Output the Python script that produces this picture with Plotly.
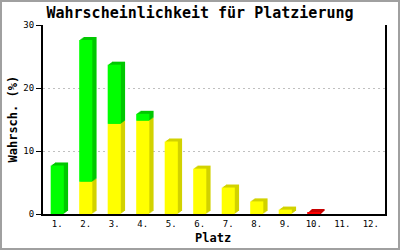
import plotly.graph_objects as go

categories = ["1.", "2.", "3.", "4.", "5.", "6.", "7.", "8.", "9.", "10.", "11.", "12."]
yellow_vals = [0, 5.1, 14.3, 14.8, 11.5, 7.2, 4.2, 2.0, 0.7, 0, 0, 0]
green_vals = [7.7, 22.5, 9.4, 1.1, 0, 0, 0, 0, 0, 0, 0, 0]
red_vals = [0, 0, 0, 0, 0, 0, 0, 0, 0, 0.2, 0, 0]

series = [
    ("gelb", yellow_vals, "#ffff00", "#d2d200"),
    ("grün", green_vals, "#00ff00", "#00c800"),
    ("rot", red_vals, "#ff0000", "#c80000"),
]

W, H = 400, 250
ML, MR, MT, MB = 43, 15, 25, 36
PW, PH = W - ML - MR, H - MT - MB

BAR_W = 0.46
DX = 0.15      # depth in category units
DY = 0.48      # depth in value units
STEPS = 4

# stacked bases
bases = []
run = [0.0] * len(categories)
for _, vals, _, _ in series:
    bases.append(list(run))
    run = [r + v for r, v in zip(run, vals)]

fig = go.Figure()
xi = list(range(len(categories)))

# shadows (side + top faces)
for (name, vals, front, dark), base in zip(series, bases):
    for k in range(STEPS, 0, -1):
        fig.add_trace(go.Bar(
            x=xi, y=vals, base=[b + DY * k / STEPS for b in base],
            width=BAR_W, offset=-BAR_W / 2 + DX * k / STEPS,
            marker=dict(color=dark, line=dict(width=0)),
            showlegend=False, hoverinfo="skip",
        ))
# front faces
for (name, vals, front, dark), base in zip(series, bases):
    fig.add_trace(go.Bar(
        x=xi, y=vals, base=base, width=BAR_W, offset=-BAR_W / 2,
        marker=dict(color=front, line=dict(width=0)),
        name=name, showlegend=False,
    ))

mono = "DejaVu Sans Mono"
fig.update_layout(
    width=W, height=H, barmode="overlay",
    margin=dict(l=ML, r=MR, t=MT, b=MB, pad=0),
    paper_bgcolor="white", plot_bgcolor="white",
    title=dict(text="Wahrscheinlichkeit für Platzierung", x=0.5, xanchor="center",
               y=1 - 13 / H, yanchor="middle", yref="container",
               font=dict(family=mono, size=15, color="black", weight="bold")),
    xaxis=dict(tickmode="array", tickvals=xi, ticktext=categories, range=[-0.5, 11.5],
               showgrid=False, showline=True, linecolor="black", linewidth=2,
               ticks="", tickfont=dict(family=mono, size=9, color="black"),
               zeroline=False, fixedrange=True),
    yaxis=dict(range=[0, 30], tickvals=[0, 10, 20, 30], showgrid=True,
               gridcolor="#c0c0c0", griddash="2px,3px", gridwidth=1,
               showline=True, linecolor="black", linewidth=2, mirror=True,
               ticks="outside", ticklen=5, tickcolor="black", tickwidth=1,
               tickfont=dict(family=mono, size=9, color="black"),
               zeroline=False, fixedrange=True),
    annotations=[
        dict(text="Wahrsch. (%)", xref="paper", yref="paper",
             x=(12 - ML) / PW, y=0.5, textangle=-90, showarrow=False,
             xanchor="center", yanchor="middle",
             font=dict(family=mono, size=12, color="black", weight="bold")),
        dict(text="Platz", xref="paper", yref="paper",
             x=(213 - ML) / PW, y=-(238 - MT - PH) / PH, showarrow=False,
             xanchor="center", yanchor="middle",
             font=dict(family=mono, size=12, color="black", weight="bold")),
    ],
    shapes=[dict(type="rect", xref="paper", yref="paper",
                 x0=(1 - ML) / PW, x1=(W - 1 - ML) / PW,
                 y0=-(MB - 1) / PH, y1=1 + (MT - 1) / PH,
                 line=dict(color="#a0a0a0", width=2), layer="below")],
)

fig.write_html("out.html")
